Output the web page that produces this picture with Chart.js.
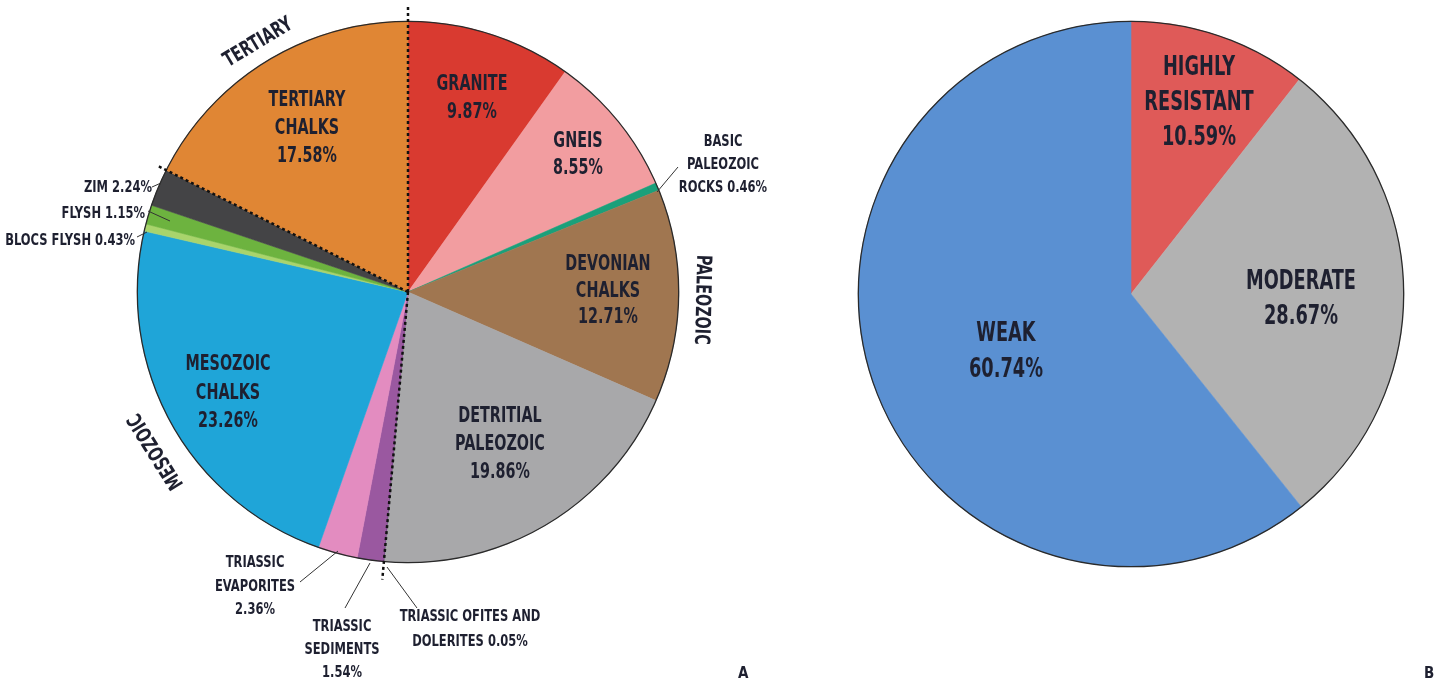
<!DOCTYPE html>
<html><head><meta charset="utf-8">
<script src="https://cdn.jsdelivr.net/npm/chart.js@4.4.0/dist/chart.umd.min.js"></script>
<style>
html,body{margin:0;padding:0;background:#fff;width:1445px;height:686px;overflow:hidden;}
#wa{position:absolute;left:0;top:0;width:816px;height:686px;}
#wb{position:absolute;left:816px;top:0;width:629px;height:686px;}
.tag{position:absolute;font:bold 15px "Liberation Sans Narrow","DejaVu Sans Condensed",sans-serif;color:#1e2030;}
</style></head><body>
<div id="wa"><canvas id="ca"></canvas></div>
<div id="wb"><canvas id="cb"></canvas></div>
<div class="tag" style="left:738px;top:664px;">A</div>
<div class="tag" style="left:1424px;top:664px;">B</div>
<script>
// ---- Data: chart A (lithology) ----
const categoriesA = ["GRANITE", "GNEIS", "BASIC|PALEOZOIC|ROCKS", "DEVONIAN|CHALKS", "DETRITIAL|PALEOZOIC",
  "TRIASSIC OFITES AND|DOLERITES", "TRIASSIC|SEDIMENTS", "TRIASSIC|EVAPORITES", "MESOZOIC|CHALKS",
  "BLOCS FLYSH", "FLYSH", "ZIM", "TERTIARY|CHALKS"];
const valuesA = [9.87, 8.55, 0.46, 12.71, 19.86, 0.05, 1.54, 2.36, 23.26, 0.43, 1.15, 2.24, 17.58];
const erasA = ["TERTIARY", "PALEOZOIC", "MESOZOIC"];
// ---- Data: chart B (resistance) ----
const categoriesB = ["HIGHLY|RESISTANT", "MODERATE", "WEAK"];
const valuesB = [10.59, 28.67, 60.74];

// ---- Styles ----
const colorsA = ["#d93a30", "#f29da0", "#1ba07a", "#a07650", "#a8a8aa", "#6b3a80", "#9a58a0", "#e38cc0",
  "#1fa5d8", "#a9d46c", "#6db33f", "#444446", "#e08634"];
const colorsB = ["#df5a58", "#b2b2b2", "#5a90d2"];
const FONT = '"Liberation Sans Narrow","DejaVu Sans Condensed",sans-serif';
const TXT = "#1e2030";

// label layout (offsets from pie centre, px)
const layoutA = [
  {dx: 64, dy: -207, size: 21, lh: 28},
  {dx: 170, dy: -150, size: 21, lh: 27},
  {dx: 315, dy: -150, size: 16, lh: 23, inline: true, leader: [270, -125, 249, -100]},
  {dx: 200, dy: -27, size: 21, lh: 26.5},
  {dx: 92, dy: 125, size: 21, lh: 28},
  {dx: 62, dy: 325, size: 16, lh: 25, inline: true, leader: [9, 316, -21, 275]},
  {dx: -66, dy: 335, size: 16, lh: 23, leader: [-63, 316, -38, 271]},
  {dx: -153, dy: 271, size: 16, lh: 23.5, leader: [-108, 290, -70, 259]},
  {dx: -180, dy: 73, size: 21, lh: 28.5},
  {dx: -273, dy: -51, size: 16, lh: 23, inline: true, align: "right", leader: [-271, -55, -261, -60]},
  {dx: -263, dy: -78, size: 16, lh: 23, inline: true, align: "right", leader: [-260, -81, -238, -71]},
  {dx: -256, dy: -104, size: 16, lh: 23, inline: true, align: "right", leader: [-256, -105, -247, -109]},
  {dx: -101, dy: -191, size: 21, lh: 28}
];
const eraLayoutA = [
  {ang: -121, gap: 20, size: 21},
  {ang: 1.5, gap: 23, size: 21},
  {ang: 147.7, gap: 27, size: 21}
];
const dividersA = [{edge: "start", idx: 0, ext: 16}, {edge: "end", idx: 4, ext: 18}, {edge: "end", idx: 11, ext: 9}];
const layoutB = [
  {dx: 68, dy: -226, size: 26, lh: 35},
  {dx: 170, dy: -12, size: 26, lh: 35},
  {dx: -125, dy: 40, size: 26, lh: 36}
];

function drawText(ctx, text, x, y, size, align, rot) {
  ctx.save();
  ctx.translate(x, y);
  if (rot) ctx.rotate(rot);
  ctx.scale(size < 18 ? 0.8 : 0.76, 1);
  ctx.font = "bold " + size + "px " + FONT;
  ctx.fillStyle = TXT;
  ctx.textAlign = align || "center";
  ctx.textBaseline = "middle";
  ctx.fillText(text, 0, 0);
  ctx.restore();
}

function labelPlugin(cats, vals, layout, eras, eraLayout, dividers) {
  return {
    id: "pieLabels",
    afterDatasetsDraw(chart) {
      const ctx = chart.ctx;
      const meta = chart.getDatasetMeta(0);
      const a0 = meta.data[0];
      const cx = a0.x, cy = a0.y, r = a0.outerRadius;
      // outline
      ctx.save();
      ctx.beginPath();
      ctx.arc(cx, cy, r, 0, Math.PI * 2);
      ctx.strokeStyle = "#2a2a2a";
      ctx.lineWidth = 1.3;
      ctx.stroke();
      ctx.restore();
      // era dividers
      (dividers || []).forEach(d => {
        const el = meta.data[d.idx];
        const ang = d.edge === "start" ? el.startAngle : el.endAngle;
        ctx.save();
        ctx.setLineDash([3, 3]);
        ctx.strokeStyle = "#111";
        ctx.lineWidth = 2.5;
        ctx.beginPath();
        ctx.moveTo(cx, cy);
        ctx.lineTo(cx + Math.cos(ang) * (r + d.ext), cy + Math.sin(ang) * (r + d.ext));
        ctx.stroke();
        ctx.restore();
      });
      // slice labels
      cats.forEach((c, i) => {
        const L = layout[i];
        const v = vals[i].toFixed(2) + "%";
        let lines = c.split("|");
        if (L.inline) lines[lines.length - 1] += " " + v; else lines.push(v);
        const x = cx + L.dx, y0 = cy + L.dy;
        lines.forEach((t, k) => drawText(ctx, t, x, y0 + k * L.lh, L.size, L.align));
        if (L.leader) {
          ctx.save();
          ctx.strokeStyle = "#333";
          ctx.lineWidth = 1;
          ctx.beginPath();
          ctx.moveTo(cx + L.leader[0], cy + L.leader[1]);
          ctx.lineTo(cx + L.leader[2], cy + L.leader[3]);
          ctx.stroke();
          ctx.restore();
        }
      });
      // era labels
      (eras || []).forEach((e, i) => {
        const E = eraLayout[i];
        const ang = E.ang * Math.PI / 180;
        const d = r + E.gap;
        drawText(ctx, e, cx + Math.cos(ang) * d, cy + Math.sin(ang) * d, E.size, "center", ang + Math.PI / 2);
      });
    }
  };
}

function makePie(id, cats, vals, colors, pad, plugin) {
  return new Chart(document.getElementById(id), {
    type: "pie",
    data: {
      labels: cats.map(c => c.replace(/\|/g, " ")),
      datasets: [{data: vals, backgroundColor: colors, borderColor: colors, borderWidth: 0.6}]
    },
    options: {
      responsive: true,
      maintainAspectRatio: false,
      animation: false,
      layout: {padding: pad},
      plugins: {legend: {display: false}, tooltip: {enabled: false}}
    },
    plugins: [plugin]
  });
}

makePie("ca", categoriesA, valuesA, colorsA, {top: 21, bottom: 123, left: 0, right: 0},
  labelPlugin(categoriesA, valuesA, layoutA, erasA, eraLayoutA, dividersA));
makePie("cb", categoriesB, valuesB, colorsB, {top: 21, bottom: 119, left: 42, right: 41},
  labelPlugin(categoriesB, valuesB, layoutB, [], [], []));
</script>
</body></html>
